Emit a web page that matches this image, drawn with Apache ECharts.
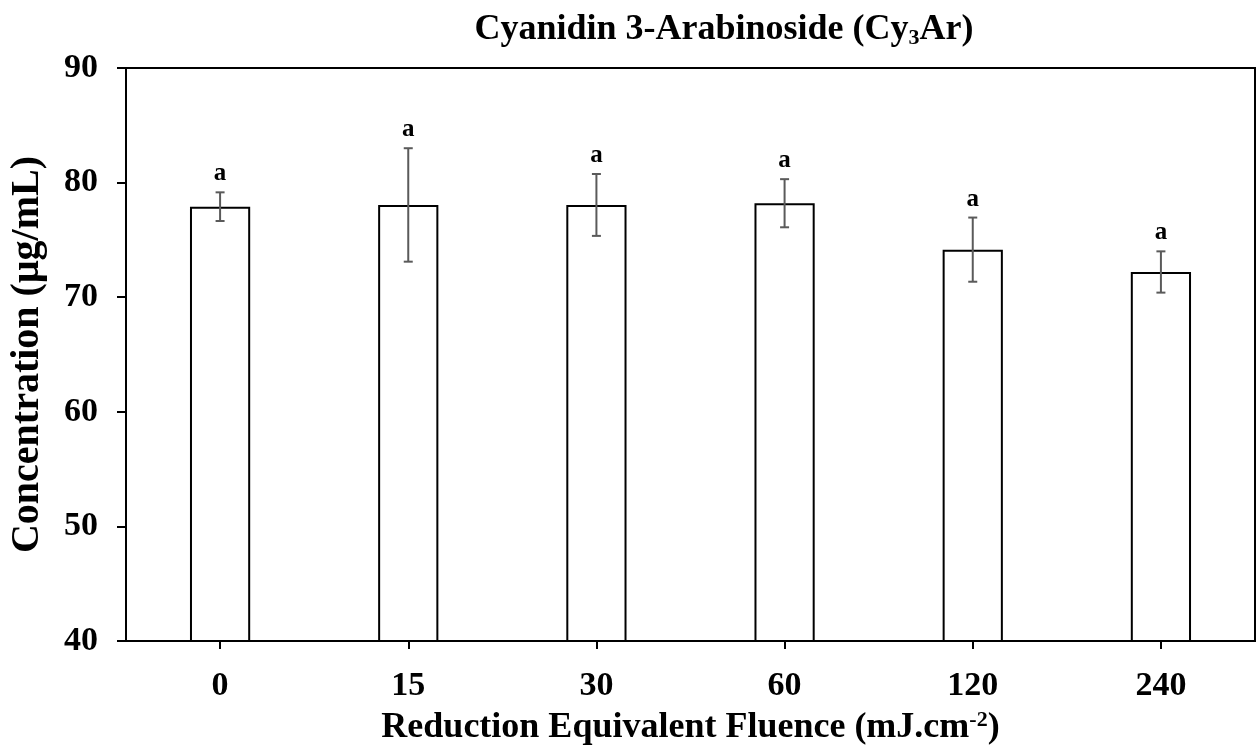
<!DOCTYPE html>
<html>
<head>
<meta charset="utf-8">
<script src="https://cdn.jsdelivr.net/npm/echarts@6/dist/echarts.min.js"></script>
<style>
html,body{margin:0;padding:0;background:#fff;}
#chart{width:1257px;height:751px;}
</style>
</head>
<body>
<div id="chart"></div>
<script>
// ---- data ----
const categories = ['0', '15', '30', '60', '120', '240'];
const means = [77.9, 78.05, 78.05, 78.2, 74.15, 72.2];
const errors = [1.25, 4.95, 2.7, 2.1, 2.8, 1.8];
const letters = ['a', 'a', 'a', 'a', 'a', 'a'];
const yTicks = [40, 50, 60, 70, 80, 90];

const FONT = '"Liberation Serif", "Times New Roman", serif';
const chart = echarts.init(document.getElementById('chart'), null, {renderer: 'canvas'});

const errData = categories.map((c, i) => [i, means[i], errors[i]]);

chart.setOption({
  animation: false,
  backgroundColor: '#fff',
  title: {
    text: '{m|Cyanidin 3-Arabinoside (Cy}{s|3}{m|Ar)}',
    left: 719, top: 6, textAlign: 'center',
    textStyle: {
      rich: {
        m: {fontFamily: FONT, fontWeight: 'bold', fontSize: 36, color: '#000'},
        s: {fontFamily: FONT, fontWeight: 'bold', fontSize: 22, color: '#000', padding: [16, 0, 0, 0]}
      }
    }
  },
  grid: {
    left: 124, right: 2, top: 68, bottom: 110,
    show: true, borderColor: '#000', borderWidth: 2, backgroundColor: 'transparent'
  },
  xAxis: {
    type: 'category',
    data: categories,
    name: '{m|Reduction Equivalent Fluence (mJ.cm}{p|-2}{m|)}',
    nameLocation: 'middle',
    nameGap: 68,
    nameTextStyle: {
      rich: {
        m: {fontFamily: FONT, fontWeight: 'bold', fontSize: 36, color: '#000'},
        p: {fontFamily: FONT, fontWeight: 'bold', fontSize: 22, color: '#000', padding: [0, 0, 16, 0]}
      }
    },
    axisLine: {lineStyle: {color: '#000', width: 2}},
    axisTick: {show: true, alignWithLabel: true, length: 8, lineStyle: {color: '#000', width: 2}},
    axisLabel: {fontFamily: FONT, fontWeight: 'bold', fontSize: 34, color: '#000', margin: 28},
    splitLine: {show: false}
  },
  yAxis: {
    type: 'value',
    min: 40, max: 90, interval: 10,
    name: 'Concentration (μg/mL)',
    nameLocation: 'middle',
    nameGap: 78,
    nameRotate: 90,
    nameTextStyle: {fontFamily: FONT, fontWeight: 'bold', fontSize: 40, color: '#000'},
    axisLine: {show: true, lineStyle: {color: '#000', width: 2}},
    axisTick: {show: true, length: 9, lineStyle: {color: '#000', width: 2}},
    axisLabel: {
      fontFamily: FONT, fontWeight: 'bold', fontSize: 34, color: '#000', margin: 28,
      formatter: v => (yTicks.indexOf(v) >= 0 ? String(v) : '')
    },
    splitLine: {show: false}
  },
  series: [
    {
      type: 'bar',
      data: means,
      barWidth: '32%',
      itemStyle: {color: '#fff', borderColor: '#000', borderWidth: 2},
      silent: true,
      z: 2
    },
    {
      type: 'custom',
      data: errData,
      z: 5,
      renderItem: function (params, api) {
        const i = api.value(0), m = api.value(1), e = api.value(2);
        const top = api.coord([i, m + e]);
        const bot = api.coord([i, m - e]);
        const x = top[0];
        const cap = 4.5;
        const st = {stroke: '#5a5a5a', lineWidth: 2};
        return {
          type: 'group',
          children: [
            {type: 'line', shape: {x1: x, y1: top[1], x2: x, y2: bot[1]}, style: st},
            {type: 'line', shape: {x1: x - cap, y1: top[1], x2: x + cap, y2: top[1]}, style: st},
            {type: 'line', shape: {x1: x - cap, y1: bot[1], x2: x + cap, y2: bot[1]}, style: st},
            {type: 'text', x: x, y: top[1] - 6,
             style: {text: letters[params.dataIndex], fontFamily: FONT, fontWeight: 'bold', fontSize: 25,
                     fill: '#000', align: 'center', verticalAlign: 'bottom'}}
          ]
        };
      }
    }
  ]
});
</script>
</body>
</html>
